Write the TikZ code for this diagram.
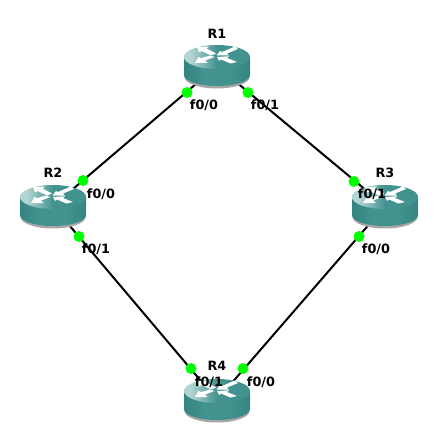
\documentclass[tikz,border=0pt]{standalone}
\usepackage{fontspec}
\setmainfont{DejaVu Sans}
\definecolor{teal1}{HTML}{429390}
\definecolor{tealdark}{HTML}{348581}
\definecolor{teallight}{HTML}{B2D4D2}
\definecolor{dotgreen}{HTML}{00FF00}
\pgfdeclarehorizontalshading{toplight}{100bp}{color(0bp)=(teallight);color(30bp)=(teallight);color(50bp)=(teal1);color(100bp)=(teal1)}
\pgfdeclarehorizontalshading{sidebody}{100bp}{color(0bp)=(tealdark);color(25bp)=(tealdark);color(40bp)=(teal1);color(60bp)=(teal1);color(75bp)=(tealdark);color(100bp)=(tealdark)}
\tikzset{
  x=1pt,y=-1pt,
  routerbase/.style={circle,inner sep=0pt,minimum size=1pt},
  lab/.style={font=\fontsize{12.8}{15}\selectfont\bfseries,text=black,inner sep=0pt},
  link/.style={draw=black,line width=2pt},
  portdot/.style={circle,fill=dotgreen,draw=none,inner sep=0pt,minimum size=11pt},
  routerpic/.pic={
    \fill[black!35] (-32.5,11) -- (-32.5,9) -- (32.5,9) -- (32.5,11) arc[start angle=0,end angle=180,x radius=32.5,y radius=11.5] -- cycle;
    \shade[shading=sidebody] (-33,-9) -- (-33,9) arc[start angle=180,end angle=0,x radius=33,y radius=11] -- (33,-9) -- cycle;
    \shade[shading=toplight] (0,-9) ellipse[x radius=33,y radius=12];
    \fill[white] (-20,-19) -- (-8,-19.5) -- (-10.5,-17.5) -- (-1,-12.5) -- (-6,-10.5) -- (-15.5,-15) -- (-18,-13.5) -- cycle;
    \fill[white] (18,-19.5) -- (21,-17) -- (10,-12.5) -- (12,-10.5) -- (-0.5,-10.5) -- (3,-15) -- (5,-14) -- cycle;
    \fill[white] (-22,-3) -- (-9.5,-3) -- (-12,-5.5) -- (-2.5,-9) -- (-7,-10.5) -- (-16,-7.8) -- (-18.5,-9) -- cycle;
    \fill[white] (0,-9) -- (12,-9.8) -- (10,-8) -- (20,-4) -- (13.5,-2.5) -- (4,-6.5) -- (2,-5) -- cycle;
  }
}
\begin{document}
\begin{tikzpicture}
\useasboundingbox (0,0) rectangle (438,441);
\node[routerbase] (r1) at (217,66) {};
\node[routerbase] (r2) at (53,206) {};
\node[routerbase] (r3) at (385,206) {};
\node[routerbase] (r4) at (217,400) {};
\draw[link] (r1) -- (r2);
\draw[link] (r1) -- (r3);
\draw[link] (r2) -- (r4);
\draw[link] (r3) -- (r4);
\pic at (r1) {routerpic};
\pic at (r2) {routerpic};
\pic at (r3) {routerpic};
\pic at (r4) {routerpic};
\node[portdot] (d1) at (187,92.5) {};
\node[portdot] (d2) at (248,92.5) {};
\node[portdot] (d3) at (83,180.5) {};
\node[portdot] (d4) at (354,181.5) {};
\node[portdot] (d5) at (79,236.5) {};
\node[portdot] (d6) at (359,236.5) {};
\node[portdot] (d7) at (191,368.5) {};
\node[portdot] (d8) at (243,368.5) {};
\node[lab] (lr1) at (217,33.5) {R1};
\node[lab] (lr2) at (53,172.5) {R2};
\node[lab] (lr3) at (385,172.5) {R3};
\node[lab] (lr4) at (217,365.5) {R4};
\node[lab] (p1) at (204,105.5) {f0/0};
\node[lab] (p2) at (265,105.5) {f0/1};
\node[lab] (p3) at (101,194.5) {f0/0};
\node[lab] (p4) at (372,194.5) {f0/1};
\node[lab] (p5) at (96,249.5) {f0/1};
\node[lab] (p6) at (376,249.5) {f0/0};
\node[lab] (p7) at (209,382.5) {f0/1};
\node[lab] (p8) at (261,382.5) {f0/0};
\end{tikzpicture}
\end{document}
